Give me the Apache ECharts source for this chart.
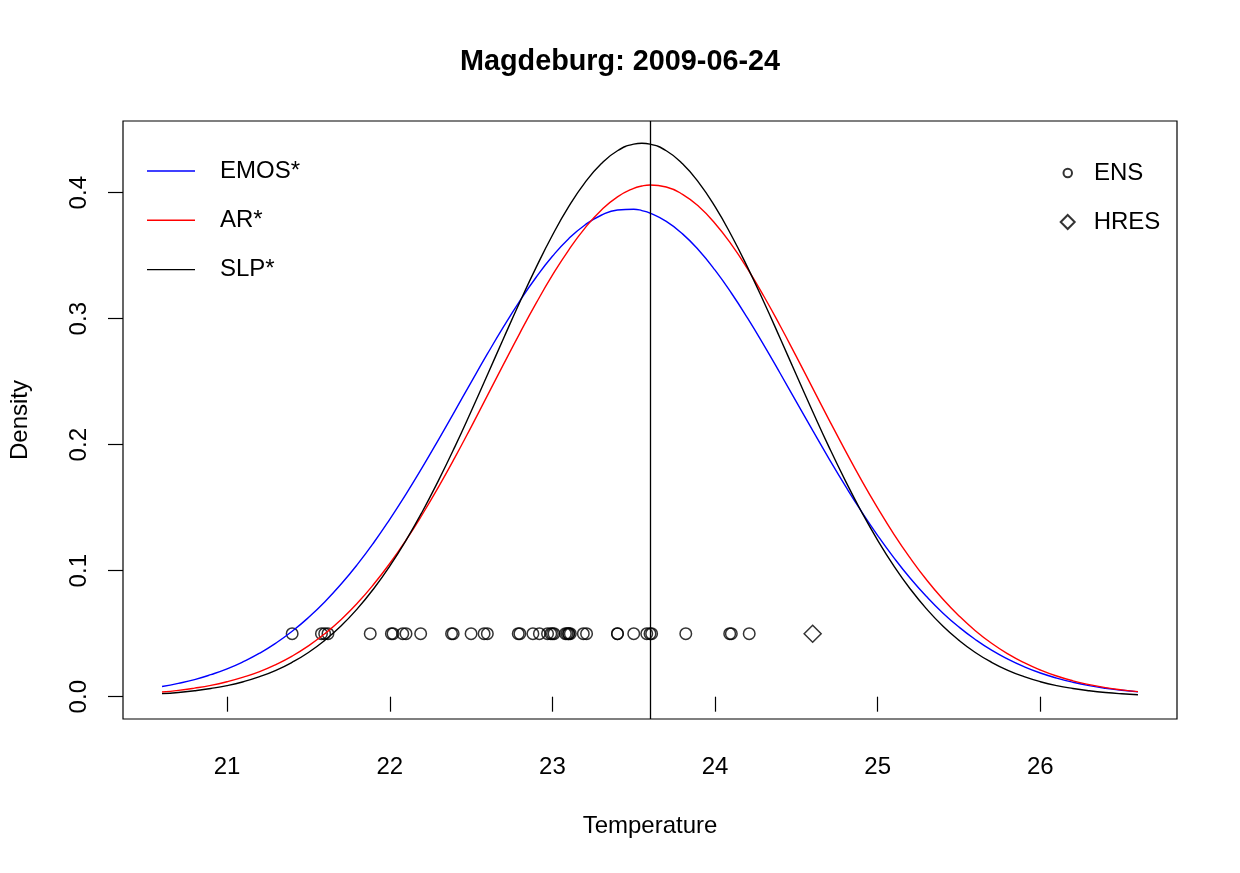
<!DOCTYPE html>
<html>
<head>
<meta charset="utf-8">
<title>Magdeburg: 2009-06-24</title>
<script src="https://cdn.jsdelivr.net/npm/echarts@6/dist/echarts.min.js"></script>
<style>
  html, body { margin: 0; padding: 0; background: #fff; }
  #chart { width: 1240px; height: 873px; }
</style>
</head>
<body>
<div id="chart"></div>
<script>
const tempGrid = [
    20.6, 20.7, 20.8, 20.9, 21.0, 21.1, 21.2, 21.3, 21.4, 21.5,
    21.6, 21.7, 21.8, 21.9, 22.0, 22.1, 22.2, 22.3, 22.4, 22.5,
    22.6, 22.7, 22.8, 22.9, 23.0, 23.1, 23.2, 23.3, 23.4, 23.5, 23.55,
    23.6, 23.7, 23.8, 23.9, 24.0, 24.1, 24.2, 24.3, 24.4, 24.5,
    24.6, 24.7, 24.8, 24.9, 25.0, 25.1, 25.2, 25.3, 25.4, 25.5,
    25.6, 25.7, 25.8, 25.9, 26.0, 26.1, 26.2, 26.3, 26.4, 26.5, 26.6
];

const emosDensity = [
    0.0081, 0.0106, 0.0136, 0.0175, 0.0221, 0.0278, 0.0345, 0.0425, 0.0519, 0.0628,
    0.0752, 0.0892, 0.1048, 0.1220, 0.1408, 0.1608, 0.1820, 0.2041, 0.2267, 0.2495,
    0.2720, 0.2937, 0.3142, 0.3329, 0.3495, 0.3635, 0.3744, 0.3821, 0.3863, 0.3869, 0.3858,
    0.3838, 0.3772, 0.3673, 0.3543, 0.3385, 0.3204, 0.3004, 0.2790, 0.2567, 0.2340,
    0.2113, 0.1890, 0.1675, 0.1470, 0.1279, 0.1102, 0.0940, 0.0795, 0.0665, 0.0552,
    0.0454, 0.0369, 0.0298, 0.0238, 0.0188, 0.0148, 0.0115, 0.0088, 0.0067, 0.0051, 0.0038
];
const arDensity = [
    0.0037, 0.0050, 0.0068, 0.0090, 0.0119, 0.0155, 0.0199, 0.0255, 0.0322, 0.0403,
    0.0499, 0.0611, 0.0741, 0.0890, 0.1057, 0.1242, 0.1446, 0.1665, 0.1897, 0.2140,
    0.2389, 0.2639, 0.2886, 0.3123, 0.3345, 0.3545, 0.3719, 0.3861, 0.3967, 0.4035, 0.4053,
    0.4061, 0.4045, 0.3987, 0.3890, 0.3756, 0.3590, 0.3395, 0.3178, 0.2944, 0.2699,
    0.2449, 0.2199, 0.1955, 0.1719, 0.1497, 0.1289, 0.1100, 0.0928, 0.0775, 0.0641,
    0.0524, 0.0424, 0.0340, 0.0270, 0.0212, 0.0164, 0.0126, 0.0096, 0.0072, 0.0054, 0.0040
];
const slpDensity = [
    0.0024, 0.0033, 0.0047, 0.0065, 0.0088, 0.0119, 0.0159, 0.0209, 0.0273, 0.0351,
    0.0447, 0.0561, 0.0697, 0.0855, 0.1036, 0.1241, 0.1468, 0.1717, 0.1983, 0.2264,
    0.2553, 0.2845, 0.3132, 0.3407, 0.3662, 0.3889, 0.4080, 0.4230, 0.4333, 0.4385, 0.4392,
    0.4385, 0.4333, 0.4230, 0.4080, 0.3889, 0.3662, 0.3407, 0.3132, 0.2845, 0.2553,
    0.2264, 0.1983, 0.1717, 0.1468, 0.1241, 0.1036, 0.0855, 0.0697, 0.0561, 0.0447,
    0.0351, 0.0273, 0.0209, 0.0159, 0.0119, 0.0088, 0.0065, 0.0047, 0.0033, 0.0023, 0.0016
];

// ensemble members and high-res forecast, drawn at a fixed height
const ensMembers = [21.40, 21.58, 21.60, 21.62, 21.88, 22.01, 22.02, 22.08, 22.10, 22.19,
                    22.38, 22.39, 22.50, 22.58, 22.60, 22.79, 22.80, 22.88, 22.92, 22.97,
                    22.99, 23.00, 23.01, 23.08, 23.09, 23.10, 23.10, 23.11, 23.19, 23.21,
                    23.40, 23.40, 23.50, 23.58, 23.60, 23.61, 23.82, 24.09, 24.10, 24.21];
const hresForecast = [24.6];
const pointLevel = 0.05;
const observation = 23.6;

const xTicks = [21, 22, 23, 24, 25, 26];
const yTicks = [0, 0.1, 0.2, 0.3, 0.4];

const font = 'Liberation Sans, Arial, Helvetica, sans-serif';

function pairs(xs, ys) {
    return xs.map((x, i) => [x, ys[i]]);
}

function curve(name, color, ys) {
    return {
        name: name, type: 'line', smooth: true, symbol: 'none', showSymbol: false,
        lineStyle: { color: color, width: 1.4 }, itemStyle: { color: color },
        data: pairs(tempGrid, ys)
    };
}

const chart = echarts.init(document.getElementById('chart'));

const slpSeries = curve('SLP*', '#000000', slpDensity);
// observed temperature
slpSeries.markLine = {
    silent: true, symbol: 'none', animation: false,
    label: { show: false },
    lineStyle: { color: '#000', width: 1.3, type: 'solid' },
    data: [{ xAxis: observation }]
};

const option = {
    animation: false,
    backgroundColor: '#fff',
    textStyle: { fontFamily: font, color: '#000' },
    title: {
        text: 'Magdeburg: 2009-06-24',
        left: 'center',
        top: 43,
        textStyle: { fontFamily: font, fontSize: 28.8, fontWeight: 'bold', color: '#000' }
    },
    grid: {
        left: 123, top: 121, width: 1054, height: 598,
        show: true, borderColor: '#000', borderWidth: 1.2, backgroundColor: 'transparent'
    },
    legend: [
        {
            data: [
                { name: 'EMOS*', icon: 'rect' },
                { name: 'AR*', icon: 'rect' },
                { name: 'SLP*', icon: 'rect' }
            ],
            orient: 'vertical',
            left: 147, top: 159,
            padding: 0,
            itemWidth: 48, itemHeight: 1.4, itemGap: 25.3,
            textStyle: { fontFamily: font, fontSize: 24, color: '#000', padding: [0, 0, 0, 20], height: 24, lineHeight: 24 }
        },
        {
            data: ['ENS'],
            left: 1062.5, top: 161,
            padding: 0,
            itemWidth: 8.5, itemHeight: 8.5,
            textStyle: { fontFamily: font, fontSize: 24, color: '#000', padding: [0, 0, 0, 17] }
        },
        {
            data: ['HRES'],
            left: 1059.7, top: 210,
            padding: 0,
            itemWidth: 14, itemHeight: 14,
            textStyle: { fontFamily: font, fontSize: 24, color: '#000', padding: [0, 0, 0, 14] }
        }
    ],
    xAxis: {
        type: 'value',
        min: 20.36, max: 26.84,
        name: 'Temperature',
        nameLocation: 'middle',
        nameGap: 95,
        nameTextStyle: { fontFamily: font, fontSize: 24, color: '#000' },
        axisLine: { show: false },
        splitLine: { show: false },
        axisTick: { show: true, length: 15, customValues: xTicks, lineStyle: { color: '#000', width: 1.2 } },
        axisLabel: { customValues: xTicks, margin: 36, fontFamily: font, fontSize: 24, color: '#000' }
    },
    yAxis: {
        type: 'value',
        min: -0.0177, max: 0.4569,
        name: 'Density',
        nameLocation: 'middle',
        nameGap: 91,
        nameTextStyle: { fontFamily: font, fontSize: 24, color: '#000' },
        axisLine: { show: false },
        splitLine: { show: false },
        axisTick: { show: true, length: 15, customValues: yTicks, lineStyle: { color: '#000', width: 1.2 } },
        axisLabel: {
            customValues: yTicks, rotate: 90, margin: 32,
            fontFamily: font, fontSize: 24, color: '#000',
            formatter: v => v.toFixed(1)
        }
    },
    series: [
        curve('EMOS*', '#0000ff', emosDensity),
        curve('AR*', '#ff0000', arDensity),
        slpSeries,
        {
            name: 'ENS', type: 'scatter', symbol: 'circle', symbolSize: 11.5,
            itemStyle: { color: 'rgba(0,0,0,0)', borderColor: '#000', borderWidth: 1.5 },
            data: ensMembers.map(x => [x, pointLevel])
        },
        {
            name: 'HRES', type: 'scatter', symbol: 'diamond', symbolSize: 17,
            itemStyle: { color: 'rgba(0,0,0,0)', borderColor: '#000', borderWidth: 1.5 },
            data: hresForecast.map(x => [x, pointLevel])
        }
    ]
};

chart.setOption(option);
</script>
</body>
</html>
